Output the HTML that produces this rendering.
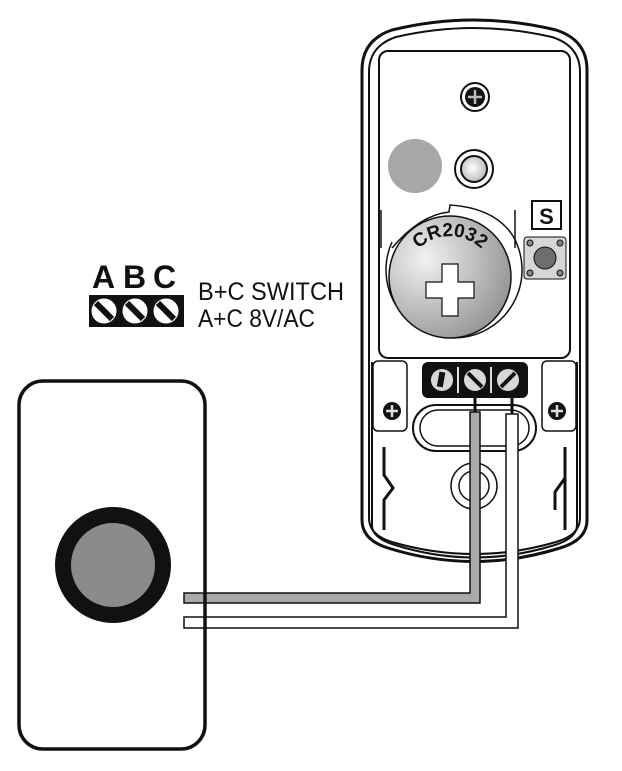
<!DOCTYPE html>
<html><head><meta charset="utf-8"><style>html,body{margin:0;padding:0;background:#fff}svg{display:block}</style></head>
<body>
<svg width="622" height="771" viewBox="0 0 622 771" xmlns="http://www.w3.org/2000/svg">
<defs>
<radialGradient id="bat" cx="0.3" cy="0.35" r="0.8"><stop offset="0" stop-color="#f2f2f2"/><stop offset="1" stop-color="#8e8e90"/></radialGradient>
<radialGradient id="led" cx="0.45" cy="0.45" r="0.6"><stop offset="0" stop-color="#fff"/><stop offset="1" stop-color="#b5b5b7"/></radialGradient>
</defs>
<!-- device outer -->
<path d="M362,70 Q362,40 392,30 Q474,10 556,30 Q587,40 587,70 L587,520 Q587,540 560,548 Q474,575 388,548 Q362,540 362,520 Z" fill="#fff" stroke="#111" stroke-width="3"/>
<path d="M369,72 Q369,46 396,37 Q474,19 552,37 Q580,46 580,72 L580,518 Q580,535 556,542 Q474,566 392,542 Q369,535 369,518 Z" fill="none" stroke="#111" stroke-width="2"/>
<!-- inner panel -->
<rect x="379" y="51" width="191" height="307" rx="9" fill="#fff" stroke="#111" stroke-width="2"/>
<!-- lower region -->
<path d="M372,362 L372,525 Q372,538 395,545 Q474,570 555,545 Q577,538 577,525 L577,362" fill="none" stroke="#111" stroke-width="2"/>
<rect x="373" y="361" width="34" height="70" rx="5" fill="#fff" stroke="#111" stroke-width="1.5"/>
<rect x="542" y="361" width="34" height="70" rx="5" fill="#fff" stroke="#111" stroke-width="1.5"/>
<circle cx="392" cy="411" r="9" fill="#111"/><path d="M392,405v12M386,411h12" stroke="#ddd" stroke-width="2.5"/>
<circle cx="557" cy="411" r="9" fill="#111"/><path d="M557,405v12M551,411h12" stroke="#ddd" stroke-width="2.5"/>
<rect x="413" y="405" width="123" height="46" rx="23" fill="none" stroke="#111" stroke-width="2"/>
<rect x="420" y="410" width="109" height="36" rx="18" fill="none" stroke="#111" stroke-width="1.5"/>
<circle cx="474" cy="486" r="23" fill="none" stroke="#111" stroke-width="1.5"/>
<circle cx="474" cy="486" r="15" fill="none" stroke="#111" stroke-width="1.5"/>
<path d="M384,447 V475 L393,488 L384,500 V530" fill="none" stroke="#111" stroke-width="3"/>
<path d="M565,447 V530 M565,478 L555,492 V510" fill="none" stroke="#111" stroke-width="3"/>
<!-- terminal block -->
<rect x="422" y="362" width="106" height="36" rx="6" fill="#111"/>
<circle cx="442" cy="380" r="11" fill="#d8d8d8"/><rect x="438" y="372" width="6" height="15" fill="#111" transform="rotate(10 441 380)"/>
<line x1="458" y1="367" x2="458" y2="393" stroke="#ddd" stroke-width="2"/>
<circle cx="475" cy="380" r="11" fill="#d8d8d8"/><line x1="468" y1="373" x2="482" y2="387" stroke="#111" stroke-width="4"/>
<line x1="491" y1="367" x2="491" y2="393" stroke="#ddd" stroke-width="2"/>
<circle cx="508" cy="380" r="11" fill="#d8d8d8"/><line x1="501" y1="387" x2="515" y2="373" stroke="#111" stroke-width="4"/>
<line x1="475" y1="398" x2="475" y2="412" stroke="#111" stroke-width="3"/>
<line x1="512" y1="398" x2="512" y2="414" stroke="#111" stroke-width="3"/>
<!-- top screw -->
<circle cx="475" cy="97" r="14" fill="#fff" stroke="#111" stroke-width="2"/>
<circle cx="475" cy="97" r="10" fill="#111"/><path d="M475,90v14M468,97h14" stroke="#bbb" stroke-width="2.5"/>
<!-- gray circle & led -->
<circle cx="415" cy="166" r="27" fill="#a7a7a9"/>
<circle cx="474" cy="169" r="19" fill="#fff" stroke="#111" stroke-width="2"/>
<circle cx="474" cy="169" r="13" fill="url(#led)" stroke="#111" stroke-width="2"/>
<!-- battery holder -->
<path d="M381,210 V248 M515,210 V248" stroke="#111" stroke-width="1.5" fill="none"/>
<path d="M392,242 A68,68 0 1 0 513,236" fill="none" stroke="#111" stroke-width="1.5"/>
<path d="M392,248 Q420,215 449,212 L450,205 Q495,208 513,236" fill="none" stroke="#111" stroke-width="1.5"/>
<circle cx="450" cy="277" r="61" fill="url(#bat)" stroke="#111" stroke-width="1.5"/>
<path d="M442,264h16v18h16v16h-16v18h-16v-18h-16v-16h16z" fill="#fff" stroke="#111" stroke-width="1.2"/>
<path id="arc" d="M408,265 A45,45 0 0 1 492,265" fill="none"/>
<text font-family="Liberation Sans, sans-serif" font-weight="bold" font-size="19" fill="#111"><textPath href="#arc" startOffset="50%" text-anchor="middle">CR2032</textPath></text>
<!-- S and button -->
<rect x="532" y="201" width="29" height="28" fill="#fff" stroke="#111" stroke-width="2"/>
<text x="546.5" y="224" text-anchor="middle" font-family="Liberation Sans, sans-serif" font-weight="bold" font-size="22" fill="#111">S</text>
<rect x="524" y="237" width="42" height="42" rx="3" fill="#d6d6d6" stroke="#111" stroke-width="1"/>
<circle cx="545" cy="258" r="11" fill="#6e6e70" stroke="#111" stroke-width="1"/>
<circle cx="530" cy="243" r="3" fill="#888" stroke="#111"/><circle cx="560" cy="243" r="3" fill="#888" stroke="#111"/>
<circle cx="530" cy="273" r="3" fill="#888" stroke="#111"/><circle cx="560" cy="273" r="3" fill="#888" stroke="#111"/>
<!-- wires -->
<path d="M470,412 H480 V603 H184 V593 H470 Z" fill="#a9a9ab" stroke="#111" stroke-width="1.5"/>
<path d="M506,414 H518 V628 H184 V617 H506 Z" fill="#fff" stroke="#111" stroke-width="1.5"/>
<!-- doorbell -->
<rect x="19" y="381" width="186" height="368" rx="24" fill="none" stroke="#111" stroke-width="3.5"/>
<circle cx="113" cy="565" r="50" fill="#8a8b8d" stroke="#111" stroke-width="16"/>
<!-- legend -->
<text x="92" y="288" font-family="Liberation Sans, sans-serif" font-weight="bold" font-size="32" fill="#111">A</text>
<text x="123" y="288" font-family="Liberation Sans, sans-serif" font-weight="bold" font-size="32" fill="#111">B</text>
<text x="153" y="288" font-family="Liberation Sans, sans-serif" font-weight="bold" font-size="32" fill="#111">C</text>
<rect x="89" y="295" width="95" height="32" fill="#111"/>
<g fill="#fff" stroke="#111" stroke-width="1">
<circle cx="104" cy="311" r="13"/><circle cx="135" cy="311" r="13"/><circle cx="166" cy="311" r="13"/></g>
<g stroke="#111" stroke-width="6"><line x1="96" y1="303" x2="112" y2="319"/><line x1="127" y1="303" x2="143" y2="319"/><line x1="158" y1="303" x2="174" y2="319"/></g>
<text x="198" y="300" font-family="Liberation Sans, sans-serif" font-size="25" fill="#111" textLength="146" lengthAdjust="spacingAndGlyphs">B+C SWITCH</text>
<text x="198" y="327" font-family="Liberation Sans, sans-serif" font-size="25" fill="#111" textLength="117" lengthAdjust="spacingAndGlyphs">A+C 8V/AC</text>
</svg>
</body></html>
